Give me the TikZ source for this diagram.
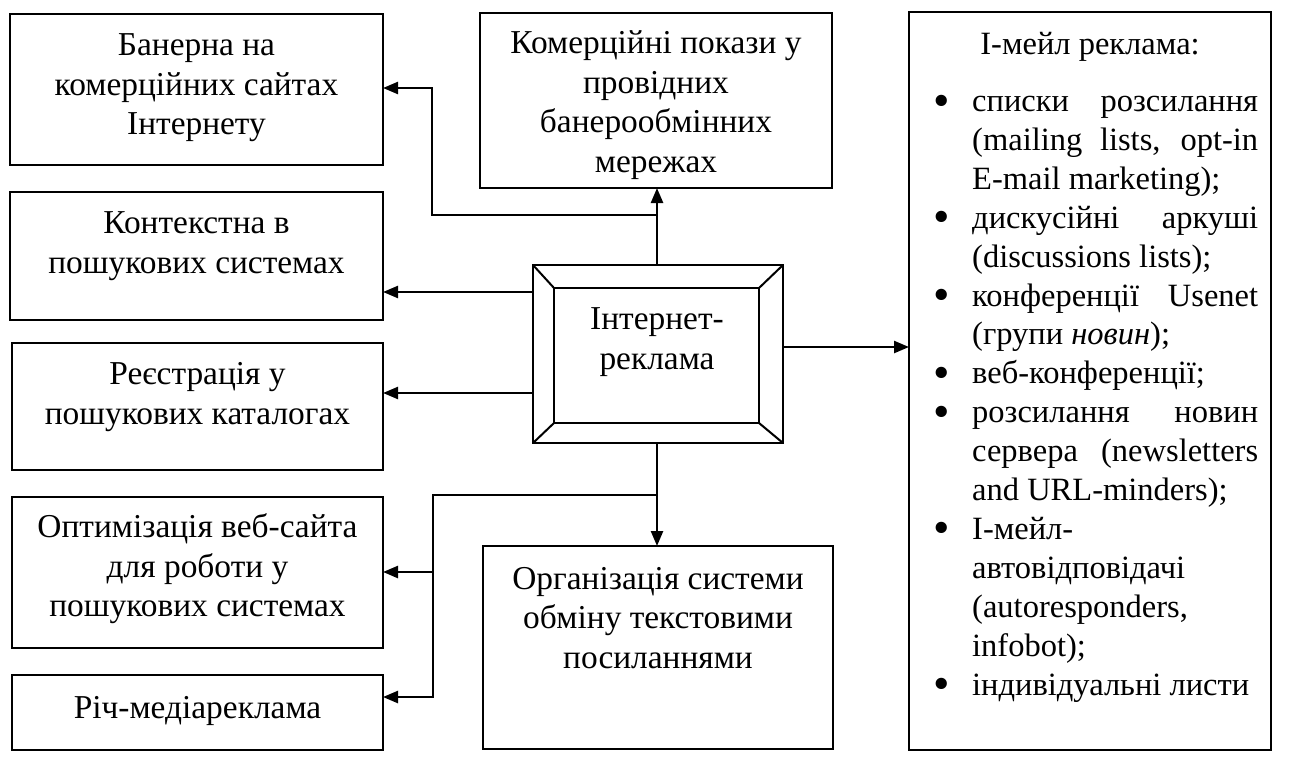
\documentclass[tikz,border=0pt]{standalone}
\usepackage{fontspec}
\usepackage{graphicx}
\setmainfont{Liberation Serif}
\usetikzlibrary{arrows.meta}
\newcommand\mbul{\raisebox{-4.5pt}{\scalebox{1.45}{\textbullet}}}
\newcommand\mitem[1]{\par\noindent\llap{\makebox[39pt][l]{\mbul}}#1\par}
\begin{document}
\begin{tikzpicture}[x=1pt,y=-1pt,
  font=\fontsize{33.4}{39.5}\selectfont,
  box/.style={draw, line width=2.6pt, inner sep=0pt, outer sep=0pt, minimum width=#1},
  txt/.style={align=center, inner sep=0pt},
  arr/.style={line width=2.4pt, -{Triangle[length=15pt,width=12pt]}},
  ln/.style={line width=2.4pt}]
\useasboundingbox (0,0) rectangle (1290,763);
% left boxes
\node[box=373pt, minimum height=151pt] (b1) at (196.5,89.5) {};
\node[box=373pt, minimum height=128pt] (b2) at (196.5,256) {};
\node[box=371pt, minimum height=127pt] (b3) at (197.5,406.5) {};
\node[box=371pt, minimum height=151pt] (b4) at (197.5,572.5) {};
\node[box=371pt, minimum height=75pt] (b5) at (197.5,712.5) {};
\node[txt] (t1) at (196.5,88) {Банерна на\\комерційних сайтах\\Інтернету};
\node[txt] (t2) at (196.5,246) {Контекстна в\\пошукових системах};
\node[txt] (t3) at (197.5,397) {Реєстрація у\\пошукових каталогах};
\node[txt] (t4) at (197.5,569) {Оптимізація веб-сайта\\для роботи у\\пошукових системах};
\node[txt] (t5) at (197.5,711) {Річ-медіареклама};
% middle boxes
\node[box=352pt, minimum height=175pt] (top) at (656,100.5) {};
\node[txt] (ttop) at (656,105) {Комерційні покази у\\провідних\\банерообмінних\\мережах};
\node[box=350pt, minimum height=203pt] (bot) at (658,647.5) {};
\node[txt] (tbot) at (658,618) {Організація системи\\обміну текстовими\\посиланнями};
% central framed box
\node[box=250pt, minimum height=178pt] (inet) at (658,354) {};
\node[box=205pt, minimum height=135pt, line width=2.2pt] (inner) at (656.5,355.5) {};
\draw[ln, line width=2pt] (inet.north west) -- (inner.north west)
  (inet.north east) -- (inner.north east)
  (inet.south west) -- (inner.south west)
  (inet.south east) -- (inner.south east);
\node[txt] (tinet) at (657,342) {Інтернет-\\реклама};
% right box
\node[box=362pt, minimum height=738pt] (mail) at (1090,381) {};
\node[txt, font=\fontsize{32.5}{38.9}\selectfont] (mhead) at (1090,47) {І-мейл реклама:};
\node[anchor=north west, inner sep=0pt, text width=325pt, align=justify,
      font=\fontsize{32.5}{38.9}\selectfont] (mlist) at (933,72.4) {%
\leftskip=39pt\rightskip=0pt\hyphenpenalty=10000\exhyphenpenalty=10000
\mitem{\rule{0pt}{25pt}списки розсилання\linebreak (mailing lists, opt-in\linebreak E-mail marketing);}
\mitem{дискусійні аркуші\linebreak (discussions lists);}
\mitem{конференції Usenet\linebreak (групи \textit{новин});}
\mitem{веб-конференції;}
\mitem{розсилання новин\linebreak сервера (newsletters\linebreak and URL-minders);}
\mitem{І-мейл-\newline автовідповідачі\newline (autoresponders,\newline infobot);}
\mitem{індивідуальні листи}};
% connectors
\coordinate (jt) at (657,215);
\coordinate (ct) at (432,215);
\coordinate (jb) at (657,495);
\coordinate (cb) at (433,495);
\coordinate (p2) at (533,292);
\coordinate (p3) at (533,393);
\coordinate (pr) at (783,347);
\coordinate (a1) at (383,88);
\coordinate (a5) at (383,697);
\coordinate (a4) at (383,572);
\draw[arr] (inet.north -| jt) -- (top.south -| jt);
\draw[arr] (jt) -- (ct) |- (a1);
\draw[arr] (p2) -- (p2 -| b2.east);
\draw[arr] (p3) -- (p3 -| b3.east);
\draw[arr] (inet.south -| jb) -- (bot.north -| jb);
\draw[arr] (jb) -- (cb) |- (a5);
\draw[arr] (cb |- a4) -- (a4);
\draw[arr] (pr) -- (pr -| mail.west);
\end{tikzpicture}
\end{document}
